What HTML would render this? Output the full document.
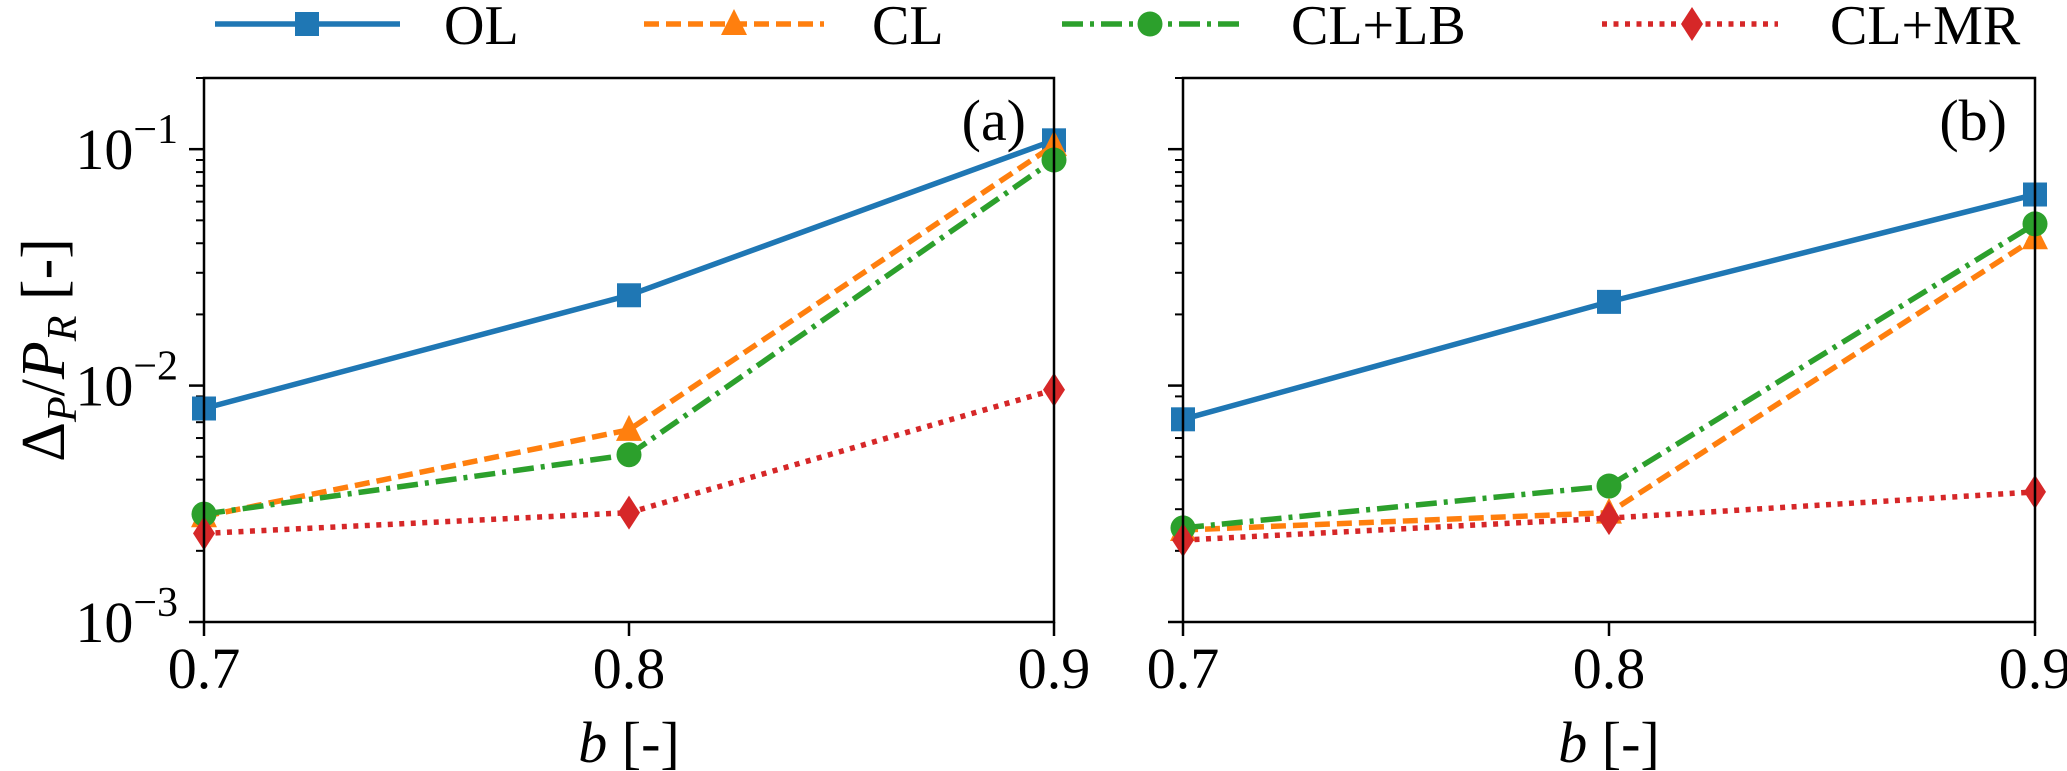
<!DOCTYPE html>
<html><head><meta charset="utf-8">
<style>
html,body{margin:0;padding:0;background:#fff;}
svg{display:block;font-family:"Liberation Serif","DejaVu Serif",serif;}
</style></head>
<body>
<svg id="chart" width="2067" height="771" viewBox="0 0 2067 771" xmlns="http://www.w3.org/2000/svg"></svg>
<script>
const categories = [0.7, 0.8, 0.9];
const olA = [0.0080, 0.0241, 0.109];
const clA = [0.0028, 0.0065, 0.104];
const lbA = [0.00286, 0.0051, 0.090];
const mrA = [0.00237, 0.0029, 0.0096];
const olB = [0.0072, 0.0226, 0.0643];
const clB = [0.00245, 0.0029, 0.042];
const lbB = [0.00250, 0.00376, 0.0483];
const mrB = [0.00222, 0.00275, 0.00355];
const xTickLabels = ["0.7", "0.8", "0.9"];
const yTickExps = [-1, -2, -3];
const seriesNames = ["OL", "CL", "CL+LB", "CL+MR"];

const NS = "http://www.w3.org/2000/svg";
const svg = document.getElementById("chart");
const TOP = 78, BOT = 622, YMIN = 0.001, YMAX = 0.2;
function yScale(v){ return BOT - (Math.log10(v) - Math.log10(YMIN)) / (Math.log10(YMAX) - Math.log10(YMIN)) * (BOT - TOP); }
function mk(tag, attrs, parent){ const e = document.createElementNS(NS, tag); for (const k in attrs) e.setAttribute(k, attrs[k]); (parent || svg).appendChild(e); return e; }

const styles = [
  {color:"#1f77b4", dash:"", marker:"square"},
  {color:"#ff7f0e", dash:"15,7", marker:"triangle"},
  {color:"#2ca02c", dash:"21,7,4,7", marker:"circle"},
  {color:"#d62728", dash:"5,6.5", marker:"diamond"}
];
function marker(type, x, y, color, g){
  let e;
  if (type === "square") e = mk("rect", {x:x-12, y:y-12, width:24, height:24, fill:color}, g);
  else if (type === "circle") e = mk("circle", {cx:x, cy:y, r:12.5, fill:color}, g);
  else if (type === "triangle") e = mk("polygon", {points:`${x},${y-15} ${x-13},${y+11} ${x+13},${y+11}`, fill:color}, g);
  else e = mk("polygon", {points:`${x},${y-17} ${x+11},${y} ${x},${y+17} ${x-11},${y}`, fill:color}, g);
  return e;
}

function panel(L, R, data, label, showY, pname){
  const g = mk("g", {});
  
  
  const xScale = v => L + (v - categories[0]) / (categories[categories.length-1] - categories[0]) * (R - L);
  for (let d = -3; d <= -1; d++) {
    for (let m = 1; m <= 9; m++) {
      const v = m * Math.pow(10, d);
      if (v > YMAX + 1e-9) continue;
      const y = yScale(v);
      const t = mk("line", {x1:L - (m === 1 ? 15 : 8), x2:L, y1:y, y2:y, stroke:"#000", "stroke-width": m===1?2.5:2}, g);
      
      
    }
  }
  if (showY) {
    yTickExps.forEach(ex => {
      const y = yScale(Math.pow(10, ex));
      const t = mk("text", {x:L - 26, y:y + 20, "text-anchor":"end", "font-size":58}, g);
      
      
      t.innerHTML = `10<tspan dy="-26" font-size="42">−${-ex}</tspan>`;
    });
  }
  categories.forEach((c, i) => {
    const x = xScale(c);
    const t = mk("line", {x1:x, x2:x, y1:BOT, y2:BOT + 14, stroke:"#000", "stroke-width":2.5}, g);
    
    
    const tl = mk("text", {x:x, y:688, "text-anchor":"middle", "font-size":58}, g);
    
    
    tl.textContent = xTickLabels[i];
  });
  const xl = mk("text", {x:(L+R)/2, y:762, "text-anchor":"middle", "font-size":58}, g);
  
  
  xl.innerHTML = '<tspan font-style="italic">b</tspan> [-]';
  data.forEach((vals, si) => {
    const st = styles[si];
    const pts = vals.map((v, i) => `${xScale(categories[i])},${yScale(v)}`).join(" ");
    const pl = mk("polyline", {points:pts, fill:"none", stroke:st.color, "stroke-width":5.5, "stroke-dasharray":st.dash}, g);
    
    
    vals.forEach((v, i) => {
      const m = marker(st.marker, xScale(categories[i]), yScale(v), st.color, g);
      
      
    });
  });
  const frame = mk("rect", {x:L, y:TOP, width:R-L, height:BOT-TOP, fill:"none", stroke:"#000", "stroke-width":2.5}, g);
  
  
  const pl = mk("text", {x:R - 28, y:140, "text-anchor":"end", "font-size":58}, g);
  
  
  pl.textContent = label;
}

panel(204, 1054, [olA, clA, lbA, mrA], "(a)", true, "panel-a");
panel(1183, 2035, [olB, clB, lbB, mrB], "(b)", false, "panel-b");

const yt = mk("text", {x:0, y:0, transform:"translate(64,350) rotate(-90)", "text-anchor":"middle", "font-size":62});


yt.innerHTML = 'Δ<tspan font-style="italic" font-size="42" dy="12">P</tspan><tspan dy="-12">/</tspan><tspan font-style="italic">P</tspan><tspan font-style="italic" font-size="42" dy="12">R</tspan><tspan dy="-12"> [-]</tspan>';

const legend = mk("g", {});


const legX = [[215, 400, 307, 444], [644, 824, 734, 872], [1062, 1241, 1150, 1291], [1602, 1778, 1692, 1830]];
const LY = 24;
seriesNames.forEach((n, i) => {
  const st = styles[i];
  const e = mk("g", {}, legend);
  
  
  mk("line", {x1:legX[i][0], x2:legX[i][1], y1:LY, y2:LY, stroke:st.color, "stroke-width":5.5, "stroke-dasharray":st.dash}, e);
  marker(st.marker, legX[i][2], LY, st.color, e);
  const t = mk("text", {x:legX[i][3], y:LY + 20, "font-size":56}, e);
  t.textContent = n;
});
</script>
</body></html>
